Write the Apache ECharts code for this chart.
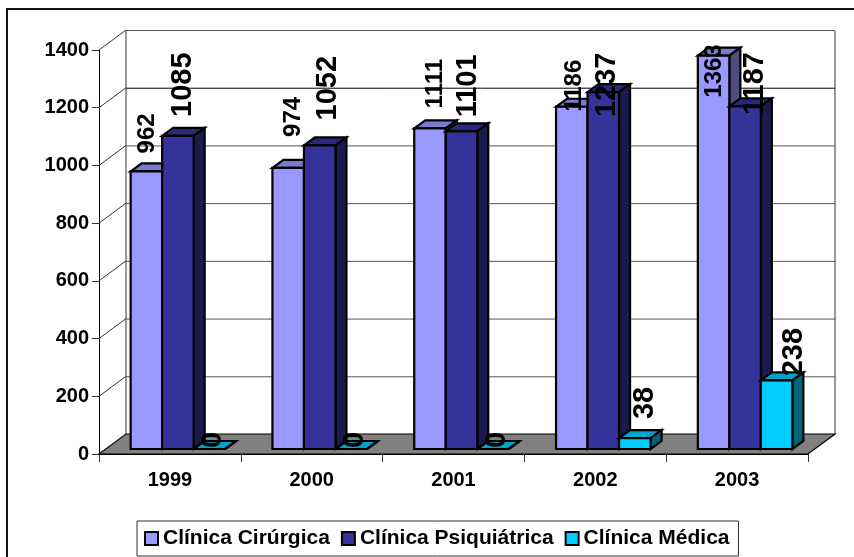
<!DOCTYPE html>
<html><head><meta charset="utf-8">
<style>html,body{margin:0;padding:0;background:#fff}#c{width:854px;height:557px}</style>
<script src="https://cdn.jsdelivr.net/npm/echarts@6/dist/echarts.min.js"></script>
</head><body><div id="c"></div>
<script>
const years = ['1999','2000','2001','2002','2003'];
const cirurgica = [962,974,1111,1186,1363];
const psiquiatrica = [1085,1052,1101,1237,1187];
const medica = [0,0,0,38,238];
const yTicks = [0,200,400,600,800,1000,1200,1400];

// label nudges relative to the bar's front-top centre: [dx, dy to text bottom]
const nudgeCir = [[1,-18],[5.5,-31],[6,-20],[3.5,5],[1,42]];
const nudgeSiq = [[5.5,-19],[8.5,-25],[6.7,-14],[3.7,25],[10,8.5]];
const nudgeMed = [[4,-1],[4,-1],[4,-1],[11,-19],[17.5,-4]];

const WALL_DX = 27, WALL_DY = 20, BAR_DX = 11, BAR_DY = 8, FLOOR_DX = 8, FLOOR_DY = 5;

function poly(points, fill){
  return {type:'polygon', shape:{points},
    style:{fill, stroke:'#000', lineWidth:2.2, lineJoin:'miter'}};
}
function barRender(index, cols){
  return function(params, api){
    const cat = api.value(0), val = api.value(1);
    const top = api.coord([cat, val]), base = api.coord([cat, 0]);
    const band = api.size([1,0])[0];
    const w = band * 0.2222;
    const left = base[0] - w*1.5 + index*w + FLOOR_DX;
    const right = left + w;
    const bot = base[1] - FLOOR_DY;
    const t = top[1] - FLOOR_DY;
    return {type:'group', children:[
      poly([[left,t],[right,t],[right+BAR_DX,t-BAR_DY],[left+BAR_DX,t-BAR_DY]], cols[1]),
      poly([[right,t],[right+BAR_DX,t-BAR_DY],[right+BAR_DX,bot-BAR_DY],[right,bot]], cols[2]),
      poly([[left,t],[right,t],[right,bot],[left,bot]], cols[0]),
    ]};
  };
}
function labelRender(index, nudge, font){
  return function(params, api){
    const cat = api.value(0), val = api.value(1);
    const top = api.coord([cat, val]), base = api.coord([cat, 0]);
    const band = api.size([1,0])[0];
    const w = band * 0.2222;
    const cx = base[0] - w*1.5 + index*w + 7.5 + w/2;
    const n = nudge[cat];
    return {type:'text', x:cx+n[0], y:top[1]-FLOOR_DY+n[1], rotation:Math.PI/2,
      style:{text:String(val), font:font, fill:'#000', align:'left', verticalAlign:'middle'}};
  };
}
function wallsRender(params, api){
  const cs = params.coordSys;
  const v = api.value(0);
  const y = api.coord([0, v])[1];
  const x0 = cs.x, x1 = cs.x + cs.width;
  const line = (a,b,c,d,col)=>({type:'line', shape:{x1:a,y1:b,x2:c,y2:d}, style:{stroke:col, lineWidth:1}});
  const children = [];
  if (params.dataIndex === 0) {
    const by = y;
    children.push({type:'polygon', shape:{points:[[x0,by],[x1,by],[x1+WALL_DX,by-WALL_DY],[x0+WALL_DX,by-WALL_DY]]},
      style:{fill:'#808080', stroke:'#000', lineWidth:1.2}});
    children.push(line(x0+WALL_DX,cs.y-19,x0+WALL_DX,by-WALL_DY,'#333'));
    children.push(line(x1+WALL_DX,cs.y-19,x1+WALL_DX,by-WALL_DY,'#333'));
  } else {
    children.push(line(x0+WALL_DX, y-19.5, x1+WALL_DX, y-19.5, v===1200?'#000':'#555'));
  }
  children.push(line(x0, y, x0+WALL_DX, y-WALL_DY, '#333'));
  return {type:'group', children};
}
const indexed = a => a.map((v,i)=>[i,v]);
const barSeries = (name,data,cols,idx)=>(
  {name, type:'custom', coordinateSystem:'cartesian2d', data:indexed(data), clip:false, z:5,
   renderItem:barRender(idx,cols), encode:{x:0,y:1},
   itemStyle:{color:cols[0]}});
const labelSeries = (data,idx,nudge,font)=>({type:'custom', coordinateSystem:'cartesian2d', data:indexed(data), clip:false, z:8,
   renderItem:labelRender(idx,nudge,font), encode:{x:0,y:1}, silent:true});

const chart = echarts.init(document.getElementById('c'), null, {renderer:'canvas'});
const FF = '"Liberation Sans", Arial, sans-serif';
chart.setOption({
  animation:false,
  backgroundColor:'#fff',
  textStyle:{fontFamily:FF},
  graphic:[{type:'polyline', z:0, shape:{points:[[7,557],[7,9],[854,9]]}, style:{stroke:'#111', fill:null, lineWidth:2}}],
  grid:{left:99, right:46, top:50, bottom:103, containLabel:false},
  xAxis:{type:'category', data:years, boundaryGap:true,
    axisLine:{show:true, lineStyle:{color:'#000', width:1}},
    axisTick:{show:true, length:8, alignWithLabel:false, lineStyle:{color:'#333'}},
    axisLabel:{fontFamily:FF, fontWeight:'bold', fontSize:20, color:'#000', margin:16},
    splitLine:{show:false}},
  yAxis:{type:'value', min:0, max:1400, interval:200,
    axisLine:{show:true, lineStyle:{color:'#000', width:1}},
    axisTick:{show:true, length:7, lineStyle:{color:'#333'}},
    axisLabel:{fontFamily:FF, fontWeight:'bold', fontSize:20, color:'#000', margin:10,
      formatter:v=>String(v)},
    splitLine:{show:false}},
  legend:{show:true, data:['Clínica Cirúrgica','Clínica Psiquiátrica','Clínica Médica'],
    left:137, top:521, orient:'horizontal',
    backgroundColor:'#fff', borderColor:'#333', borderWidth:1, padding:[7,9,7,7],
    itemGap:11, itemWidth:13, itemHeight:13, icon:'rect',
    itemStyle:{borderColor:'#000', borderWidth:2},
    selectedMode:false,
    textStyle:{fontFamily:FF, fontWeight:'bold', fontSize:21, color:'#000'}},
  series:[
    {type:'custom', coordinateSystem:'cartesian2d', data:yTicks.map(v=>[v]), clip:false, z:1, silent:true,
     renderItem:wallsRender, encode:{y:0}},
    barSeries('Clínica Cirúrgica', cirurgica, ['#9999FF','#7A7ACC','#4D4D80'],0),
    barSeries('Clínica Psiquiátrica', psiquiatrica, ['#333399','#29297A','#1A1A4D'],1),
    barSeries('Clínica Médica', medica, ['#00CCFF','#00A3CC','#006680'],2),
    labelSeries(cirurgica,0,nudgeCir,'bold 24px '+FF),
    labelSeries(psiquiatrica,1,nudgeSiq,'bold 29px '+FF),
    labelSeries(medica,2,nudgeMed,'bold 29px '+FF),
  ]
});
</script></body></html>
